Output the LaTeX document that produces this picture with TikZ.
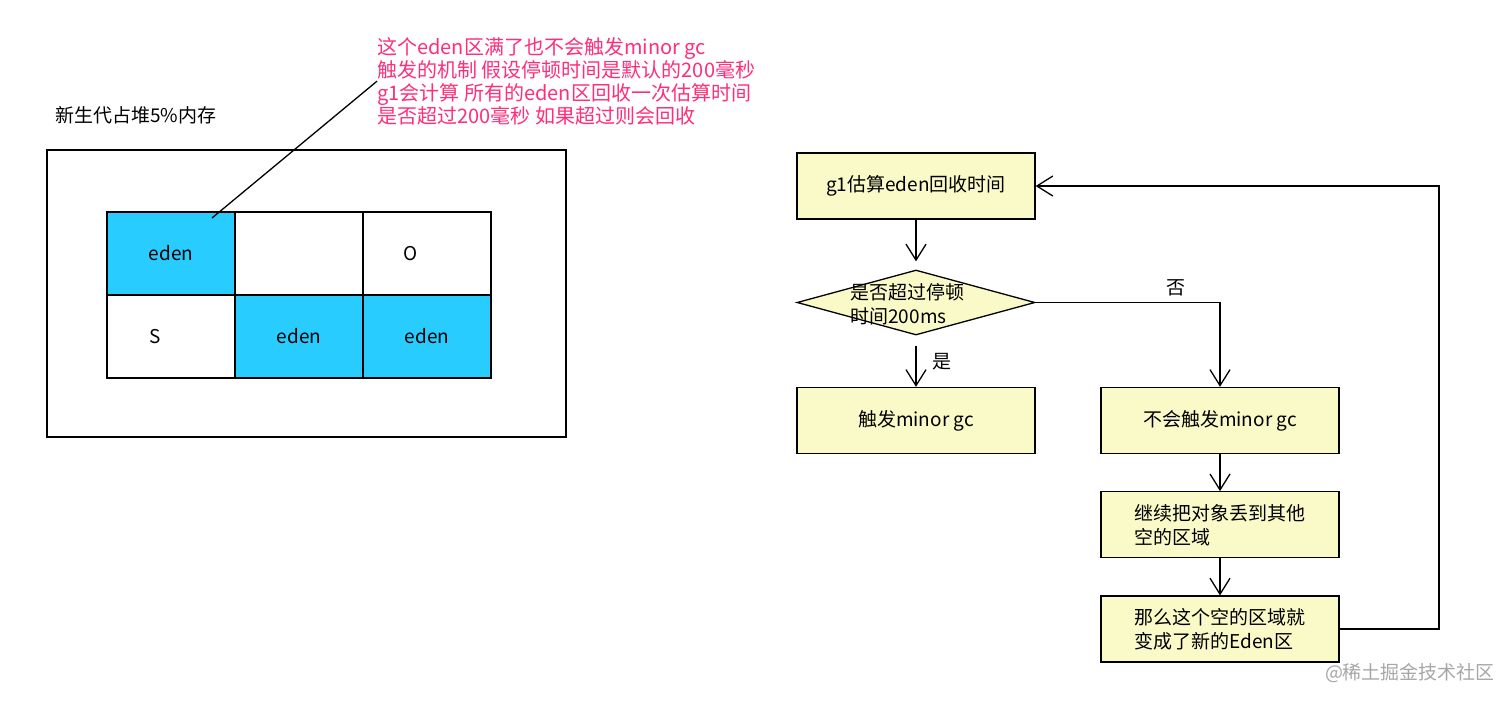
\documentclass[tikz,border=0pt]{standalone}
\usepackage{fontspec}
\setmainfont{Noto Sans CJK SC}
\usepackage{tikz}
\usetikzlibrary{
  arrows.meta,
  positioning,
  shapes.geometric,
}
\definecolor{edenBlue}{HTML}{29CCFF}
\definecolor{stepFill}{HTML}{FAFAC8}
\definecolor{notePink}{HTML}{FF2D7A}
\tikzset{
  flowbox/.style={
    rectangle, draw=black, line width=0.65pt, fill=stepFill,
    minimum width=119pt, minimum height=33pt, inner sep=0pt,
    align=left, font=\fontsize{9.5}{12}\selectfont,
  },
  decision/.style={
    diamond, draw=black, line width=0.65pt, fill=stepFill,
    minimum width=119pt, minimum height=32.5pt, inner sep=0pt,
  },
  cell/.style={
    rectangle, draw=black, line width=0.65pt,
    minimum width=64pt, minimum height=41.5pt, inner sep=0pt,
    font=\fontsize{9.5}{12}\selectfont,
  },
  arrowFlow/.style={
    -{Straight Barb[length=8pt,width=10pt]}, line width=0.65pt, draw=black,
  },
  plain/.style={font=\fontsize{9.5}{12}\selectfont, inner sep=0pt},
}

\begin{document}
\begin{tikzpicture}[x=0.5pt,y=-0.5pt]
\useasboundingbox (0,0) rectangle (1512,703);

% heap layout
\node[plain, anchor=west] (title) at (55,115) {新生代占堆5\%内存};
\node[draw=black, line width=0.65pt, minimum width=259.5pt,
  minimum height=143.5pt] (heap) at (306.5,293.5) {};
\node[cell, fill=edenBlue] (e1) at (171,253.5) {eden};
\node[cell] (c12) at (299,253.5) {};
\node[cell, label={[plain, xshift=-8pt]center:O}] (c13) at (427,253.5) {};
\node[cell, label={[plain, xshift=-8pt]center:S}] (c21) at (171,336.5) {};
\node[cell, fill=edenBlue] (e2) at (299,336.5) {eden};
\node[cell, fill=edenBlue] (e3) at (427,336.5) {eden};

% callout
\node[anchor=north west, inner sep=0pt, align=left, text=notePink,
  font=\fontsize{10}{11.5}\selectfont] (note) at (377,37) {%
  这个eden区满了也不会触发minor gc\\
  触发的机制 假设停顿时间是默认的200毫秒\\
  g1会计算 所有的eden区回收一次估算时间\\
  是否超过200毫秒 如果超过则会回收};
\coordinate (pin) at (212,218);
\draw[line width=0.65pt] (pin) -- (note.west);

% flow
\node[flowbox] (est) at (916,186) {g1估算eden回收时间};
\node[decision] (check) at (916,302.5) {};
\node[plain, anchor=west, align=left] (checktext) at (850,304)
  {是否超过停顿\\时间200ms};
\node[flowbox] (trigger) at (916,420.5) {触发minor gc};
\node[flowbox] (skip) at (1220,420.5) {不会触发minor gc};
\node[flowbox, below=18.5pt of skip] (move) {继续把对象丢到其他\\空的区域};
\node[flowbox, below=18.5pt of move] (neweden) {那么这个空的区域就\\变成了新的Eden区};
\coordinate (loopr) at (1439,186);

\draw[arrowFlow, shorten >=4pt] (est) -- (check);
\draw[arrowFlow, shorten <=5pt] (check) -- (trigger)
  node[plain, midway, right=8pt] {是};
\draw[arrowFlow] (check.east) -| (skip.north)
  node[plain, pos=0.38, above=3pt] {否};
\draw[arrowFlow] (skip) -- (move);
\draw[arrowFlow] (move) -- (neweden);
\draw[arrowFlow] (neweden.east) -| (loopr) -- (est.east);

\node[plain, text=black!35] (mark) at (1410,673) {@稀土掘金技术社区};
\end{tikzpicture}
\end{document}
